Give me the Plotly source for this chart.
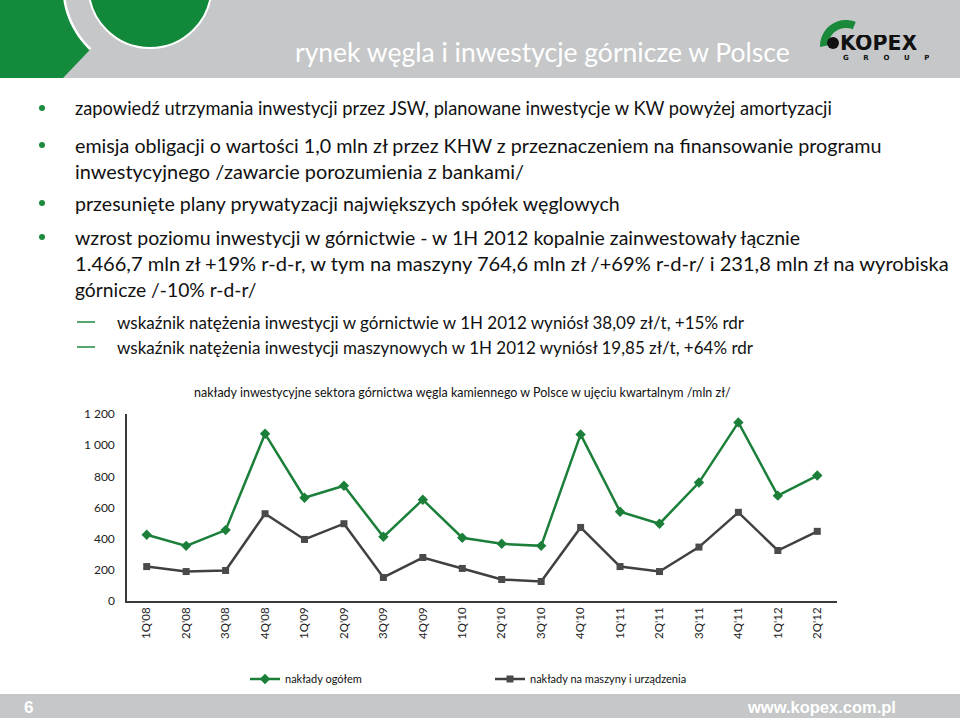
import math
import plotly.graph_objects as go

# ---------------- data ----------------
quarters = ["1Q'08", "2Q'08", "3Q'08", "4Q'08", "1Q'09", "2Q'09", "3Q'09", "4Q'09",
            "1Q'10", "2Q'10", "3Q'10", "4Q'10", "1Q'11", "2Q'11", "3Q'11", "4Q'11",
            "1Q'12", "2Q'12"]
naklady_ogolem = [425, 354, 455, 1073, 663, 740, 412, 650,
                  406, 367, 354, 1069, 573, 496, 760, 1146, 676, 805]
naklady_maszyny = [221, 189, 196, 560, 395, 496, 151, 279,
                   209, 138, 125, 472, 221, 189, 346, 569, 324, 447]
series_names = ["nakłady ogółem", "nakłady na maszyny i urządzenia"]
y_tickvals = [0, 200, 400, 600, 800, 1000, 1200]
y_ticktext = ["0", "200", "400", "600", "800", "1 000", "1 200"]

chart_title = "nakłady inwestycyjne sektora górnictwa węgla kamiennego w Polsce w ujęciu kwartalnym /mln zł/"
slide_title = "rynek węgla i inwestycje górnicze w Polsce"
bullet_texts = [
    "zapowiedź utrzymania inwestycji przez JSW, planowane inwestycje w KW powyżej amortyzacji",
    "emisja obligacji o wartości 1,0 mln zł przez KHW z przeznaczeniem na finansowanie programu",
    "inwestycyjnego /zawarcie porozumienia z bankami/",
    "przesunięte plany prywatyzacji największych spółek węglowych",
    "wzrost poziomu inwestycji w górnictwie - w 1H 2012 kopalnie zainwestowały łącznie",
    "1.466,7 mln zł +19% r-d-r, w tym na maszyny 764,6 mln zł /+69% r-d-r/ i 231,8 mln zł na wyrobiska",
    "górnicze /-10% r-d-r/",
]
sub_bullet_texts = [
    "wskaźnik natężenia inwestycji w górnictwie w 1H 2012 wyniósł 38,09 zł/t, +15% rdr",
    "wskaźnik natężenia inwestycji maszynowych w 1H 2012 wyniósł 19,85 zł/t, +64% rdr",
]

# ---------------- layout / style (not data) ----------------
bullet_y = [108, 145, 171, 203, 237, 263, 289]
bullet_dot = [True, True, False, True, True, False, False]
bullet_size = [18.3, 19.7, 19.9, 19.6, 19.5, 20.1, 19.3]
sub_y = [322, 347]

W, H = 960, 718
ML, MR, MT, MB = 127, 123, 414, 117
PW = W - ML - MR
PH = H - MT - MB


def px(x):
    return (x - ML) / PW


def py(y):
    return (H - MB - y) / PH


GREEN = "#1b7f3a"
DARK = "#404040"
HEADER_GREY = "#c5c7c8"
TXT = "#111111"
FONT = "Lato"

fig = go.Figure()
fig.add_trace(go.Scatter(
    x=quarters, y=naklady_ogolem, name=series_names[0], mode="lines+markers",
    line=dict(color=GREEN, width=2.5),
    marker=dict(symbol="diamond", size=8, color=GREEN)))
fig.add_trace(go.Scatter(
    x=quarters, y=naklady_maszyny, name=series_names[1], mode="lines+markers",
    line=dict(color=DARK, width=2.5),
    marker=dict(symbol="square", size=7, color="#4a4a4a")))

shapes = []
annotations = []

# header bar
shapes.append(dict(type="rect", xref="paper", yref="paper", x0=px(0), x1=px(W), y0=py(78), y1=py(0),
                   fillcolor=HEADER_GREY, line=dict(width=0), layer="below"))
# footer bar
shapes.append(dict(type="rect", xref="paper", yref="paper", x0=px(0), x1=px(W), y0=py(718), y1=py(694),
                   fillcolor=HEADER_GREY, line=dict(width=0), layer="below"))


def arc_pts(cx, cy, r, a0, a1, n=40):
    pts = []
    for i in range(n + 1):
        a = math.radians(a0 + (a1 - a0) * i / n)
        pts.append((cx + r * math.cos(a), cy + r * math.sin(a)))
    return pts


def path_from(pts, close=True):
    s = "M " + " L ".join(f"{px(x):.5f},{py(y):.5f}" for x, y in pts)
    return s + (" Z" if close else "")


# green decorative left shape
cx, cy = 150, -13.5
outer = arc_pts(cx, cy, 86.5, 171, 133.5)
poly = [(0, 0)] + outer + [(63, 78), (0, 78)]
shapes.append(dict(type="path", xref="paper", yref="paper", path=path_from(poly),
                   fillcolor="#138a3c", line=dict(width=0), layer="below"))
shapes.append(dict(type="path", xref="paper", yref="paper", path=path_from(outer, close=False),
                   line=dict(color="white", width=2.5), layer="below"))
r_in = 61.5
shapes.append(dict(type="circle", xref="paper", yref="paper",
                   x0=px(cx - r_in), x1=px(cx + r_in), y0=py(cy + r_in), y1=py(cy - r_in),
                   fillcolor="#12883b", line=dict(color="white", width=2), layer="below"))

# logo crescent
lcx, lcy = 846, 46
o = arc_pts(lcx, lcy, 26, 178, 292, 30)
i_ = arc_pts(lcx, lcy, 18, 292, 182, 30)
shapes.append(dict(type="path", xref="paper", yref="paper", path=path_from(o + i_),
                   fillcolor="#1a8a3a", line=dict(width=0), layer="below"))
shapes.append(dict(type="circle", xref="paper", yref="paper",
                   x0=px(827), x1=px(839), y0=py(49), y1=py(37),
                   fillcolor="#111111", line=dict(width=0), layer="below"))
annotations.append(dict(text="<b>KOPEX</b>", x=px(838), y=py(43), xref="paper", yref="paper",
                        xanchor="left", yanchor="middle", showarrow=False, height=16,
                        font=dict(family="DejaVu Sans", size=20.5, color="#111111")))
sp = "&nbsp;" * 6
annotations.append(dict(text="<b>" + sp.join("GROUP") + "</b>", x=px(841), y=py(57.5),
                        xref="paper", yref="paper", xanchor="left", yanchor="middle", showarrow=False,
                        height=8, font=dict(family="DejaVu Sans", size=7, color="#111111")))

# slide title
annotations.append(dict(text=slide_title, x=px(293), y=py(52), xref="paper", yref="paper",
                        xanchor="left", yanchor="middle", showarrow=False,
                        font=dict(family=FONT, size=26.5, color="white")))

# bullets
for y, txt, dot, fs in zip(bullet_y, bullet_texts, bullet_dot, bullet_size):
    annotations.append(dict(text=txt, x=px(73), y=py(y), xref="paper", yref="paper",
                            xanchor="left", yanchor="middle", showarrow=False,
                            font=dict(family=FONT, size=fs, color=TXT)))
    if dot:
        shapes.append(dict(type="circle", xref="paper", yref="paper",
                           x0=px(39), x1=px(45), y0=py(y + 3), y1=py(y - 3),
                           fillcolor="#1d8a3e", line=dict(width=0)))
for y, txt in zip(sub_y, sub_bullet_texts):
    annotations.append(dict(text=txt, x=px(115), y=py(y), xref="paper", yref="paper",
                            xanchor="left", yanchor="middle", showarrow=False,
                            font=dict(family=FONT, size=17, color=TXT)))
    shapes.append(dict(type="line", xref="paper", yref="paper",
                       x0=px(77), x1=px(95), y0=py(y), y1=py(y),
                       line=dict(color="#1d8a3e", width=1.5)))

# chart title
annotations.append(dict(text=chart_title, x=px(462), y=py(392), xref="paper", yref="paper",
                        xanchor="center", yanchor="middle", showarrow=False,
                        font=dict(family=FONT, size=12.5, color=TXT)))

# footer texts
annotations.append(dict(text="<b>6</b>", x=px(22), y=py(707), xref="paper", yref="paper",
                        xanchor="left", yanchor="middle", showarrow=False,
                        font=dict(family="Liberation Sans", size=17, color="white")))
annotations.append(dict(text="<b>www.kopex.com.pl</b>", x=px(898), y=py(707), xref="paper", yref="paper",
                        xanchor="right", yanchor="middle", showarrow=False,
                        font=dict(family="Liberation Sans", size=16.5, color="white")))

fig.update_layout(
    width=W, height=H,
    margin=dict(l=ML, r=MR, t=MT, b=MB, pad=0),
    paper_bgcolor="white", plot_bgcolor="white",
    showlegend=True,
    legend=dict(orientation="h", x=px(245), y=py(679), xanchor="left", yanchor="middle",
                font=dict(family=FONT, size=11, color=TXT), entrywidth=200,
                bgcolor="rgba(0,0,0,0)", itemwidth=30),
    shapes=shapes, annotations=annotations,
    xaxis=dict(type="category", range=[-0.5, len(quarters) - 0.5], tickangle=-90,
               showgrid=False, showline=True, linecolor="#3a3a3a", linewidth=1.5, ticks="",
               tickfont=dict(family=FONT, size=11.5, color="#222222"), fixedrange=True),
    yaxis=dict(range=[0, 1200], tickvals=y_tickvals, ticktext=y_ticktext, showgrid=False,
               showline=True, linecolor="#3a3a3a", linewidth=1.5, ticks="", zeroline=False,
               ticklabelstandoff=8,
               tickfont=dict(family=FONT, size=12, color="#222222"), fixedrange=True),
)

fig.write_html("out.html")
